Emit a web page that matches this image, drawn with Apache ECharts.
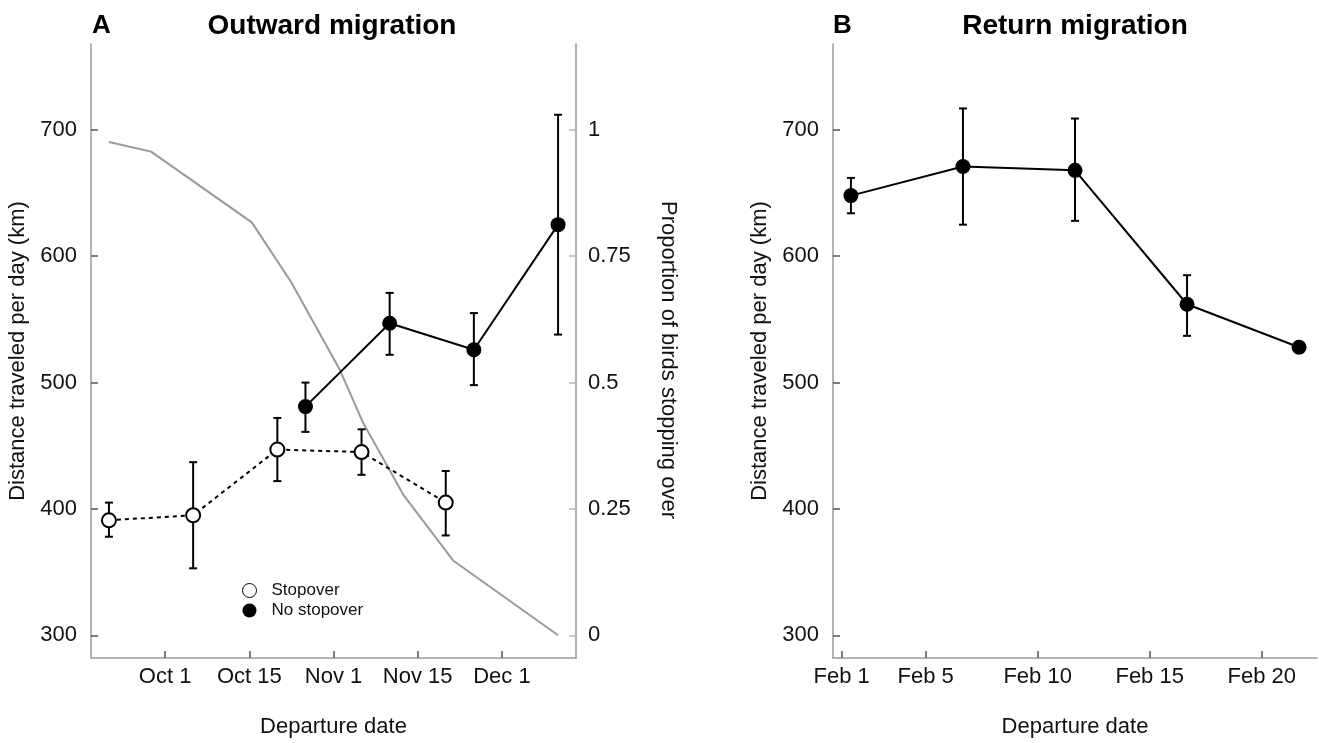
<!doctype html>
<html>
<head>
<meta charset="utf-8">
<title>Migration distance per day</title>
<style>
  html, body { margin: 0; padding: 0; background: #fff; }
  #main { width: 1319px; height: 743px; }
</style>
</head>
<body>
<div id="main"></div>
<script src="https://cdn.jsdelivr.net/npm/echarts@6/dist/echarts.min.js"></script>
<script>
// ---- panel A: outward migration (x in half-month periods) ----
var outTickPos = [1, 2, 3, 4, 5];
var outTickLabels = ['Oct 1', 'Oct 15', 'Nov 1', 'Nov 15', 'Dec 1'];

var stopX = [0.333, 1.333, 2.333, 3.333, 4.333];
var stopMean = [391, 395, 447, 445, 405];
var stopLow = [378, 353, 422, 427, 379];
var stopHigh = [405, 437, 472, 463, 430];

var noStopX = [2.667, 3.667, 4.667, 5.667];
var noStopMean = [481, 547, 526, 625];
var noStopLow = [461, 522, 498, 538];
var noStopHigh = [500, 571, 555, 712];

var propX = [0.333, 0.833, 2.03, 2.5, 3.07, 3.35, 3.83, 4.42, 5.667];
var propY = [0.976, 0.957, 0.817, 0.698, 0.527, 0.421, 0.278, 0.148, 0];

// ---- panel B: return migration (x in days of February) ----
var retTickPos = [1.25, 5, 10, 15, 20];
var retTickLabels = ['Feb 1', 'Feb 5', 'Feb 10', 'Feb 15', 'Feb 20'];

var retX = [1.667, 6.667, 11.667, 16.667, 21.667];
var retMean = [648, 671, 668, 562, 528];
var retLow = [634, 625, 628, 537, 524];
var retHigh = [662, 717, 709, 585, 532];

var distTicks = [300, 400, 500, 600, 700];
var propTicks = [0, 0.25, 0.5, 0.75, 1];

var FONT = '"Liberation Sans", Arial, sans-serif';

function pairs(xs, ys) {
    return xs.map(function (x, i) { return [x, ys[i]]; });
}
function bars(xs, lo, hi) {
    return xs.map(function (x, i) { return [x, lo[i], hi[i]]; });
}
function tickFormatter(pos, labels) {
    return function (v) {
        for (var i = 0; i < pos.length; i++) {
            if (Math.abs(pos[i] - v) < 1e-6) return labels[i];
        }
        return '';
    };
}
function renderErrorBar(params, api) {
    var x = api.value(0);
    var lo = api.coord([x, api.value(1)]);
    var hi = api.coord([x, api.value(2)]);
    var hw = 4;
    var st = { stroke: '#000', lineWidth: 2 };
    return {
        type: 'group',
        children: [
            { type: 'line', shape: { x1: lo[0], y1: lo[1], x2: hi[0], y2: hi[1] }, style: st },
            { type: 'line', shape: { x1: lo[0] - hw, y1: lo[1], x2: lo[0] + hw, y2: lo[1] }, style: st },
            { type: 'line', shape: { x1: hi[0] - hw, y1: hi[1], x2: hi[0] + hw, y2: hi[1] }, style: st }
        ]
    };
}

var axisLineStyle = { color: '#9a9a9a', width: 1.5 };
var labelStyle = { fontSize: 22, color: '#111', fontFamily: FONT };
var nameStyle = { fontSize: 22, color: '#111', fontFamily: FONT };

function xAxis(grid, min, max, pos, labels) {
    return {
        type: 'value', gridIndex: grid, min: min, max: max,
        axisLine: { show: true, onZero: false, lineStyle: axisLineStyle },
        axisTick: { show: true, inside: true, length: 7, customValues: pos, lineStyle: { color: '#555', width: 1.5 } },
        axisLabel: Object.assign({ margin: 8, customValues: pos, formatter: tickFormatter(pos, labels) }, labelStyle),
        splitLine: { show: false },
        name: 'Departure date', nameLocation: 'middle', nameGap: 58, nameTextStyle: nameStyle
    };
}
function distAxis(grid) {
    return {
        type: 'value', gridIndex: grid, min: 282, max: 768, position: 'left',
        axisLine: { show: true, onZero: false, lineStyle: axisLineStyle },
        axisTick: { show: true, inside: true, length: 7, customValues: distTicks, lineStyle: { color: '#555', width: 1.5 } },
        axisLabel: Object.assign({ margin: 14, customValues: distTicks }, labelStyle),
        splitLine: { show: false },
        name: 'Distance traveled per day (km)', nameLocation: 'middle', nameGap: 62, nameTextStyle: nameStyle
    };
}

var chart = echarts.init(document.getElementById('main'));

chart.setOption({
    backgroundColor: '#fff',
    animation: false,
    textStyle: { fontFamily: FONT },
    grid: [
        { left: 91, right: 743, top: 44, bottom: 83 },
        { left: 833, right: 2, top: 44, bottom: 83 }
    ],
    xAxis: [
        xAxis(0, 0.12, 5.88, outTickPos, outTickLabels),
        xAxis(1, 0.867, 22.467, retTickPos, retTickLabels)
    ],
    yAxis: [
        distAxis(0),
        {
            type: 'value', gridIndex: 0, min: -0.045, max: 1.17, position: 'right',
            axisLine: { show: true, onZero: false, lineStyle: axisLineStyle },
            axisTick: { show: true, inside: true, length: 7, customValues: propTicks, lineStyle: { color: '#b5b5b5', width: 1.5 } },
            axisLabel: Object.assign({ margin: 12, customValues: propTicks }, labelStyle),
            splitLine: { show: false },
            name: 'Proportion of birds stopping over', nameLocation: 'middle', nameGap: 81,
            nameRotate: -90, nameTextStyle: Object.assign({ padding: [0, 0, 0, 18] }, nameStyle)
        },
        distAxis(1)
    ],
    legend: {
        left: 242, top: 582, orient: 'vertical', padding: 0,
        itemWidth: 14, itemHeight: 14, itemGap: 3, icon: 'circle',
        textStyle: { fontSize: 17, color: '#111', fontFamily: FONT, padding: [0, 0, 0, 10] },
        data: [
            { name: 'Stopover', itemStyle: { color: '#fff', borderColor: '#000', borderWidth: 1 } },
            { name: 'No stopover', itemStyle: { color: '#000', borderWidth: 0 } }
        ]
    },
    graphic: [
        { type: 'text', x: 92, y: 26, style: { text: 'A', font: 'bold 26px ' + FONT, fill: '#000', textVerticalAlign: 'middle' } },
        { type: 'text', x: 332, y: 26, style: { text: 'Outward migration', font: 'bold 28px ' + FONT, fill: '#000', textAlign: 'center', textVerticalAlign: 'middle' } },
        { type: 'text', x: 833, y: 26, style: { text: 'B', font: 'bold 26px ' + FONT, fill: '#000', textVerticalAlign: 'middle' } },
        { type: 'text', x: 1075, y: 26, style: { text: 'Return migration', font: 'bold 28px ' + FONT, fill: '#000', textAlign: 'center', textVerticalAlign: 'middle' } }
    ],
    series: [
        {
            name: 'proportion', type: 'line', xAxisIndex: 0, yAxisIndex: 1, z: 1,
            data: pairs(propX, propY), symbol: 'none',
            lineStyle: { color: '#9a9a9a', width: 2 }
        },
        {
            name: 'stopover-err', type: 'custom', xAxisIndex: 0, yAxisIndex: 0, z: 2,
            renderItem: renderErrorBar, encode: { x: 0, y: [1, 2] }, data: bars(stopX, stopLow, stopHigh)
        },
        {
            name: 'nostop-err', type: 'custom', xAxisIndex: 0, yAxisIndex: 0, z: 2,
            renderItem: renderErrorBar, encode: { x: 0, y: [1, 2] }, data: bars(noStopX, noStopLow, noStopHigh)
        },
        {
            name: 'return-err', type: 'custom', xAxisIndex: 1, yAxisIndex: 2, z: 2,
            renderItem: renderErrorBar, encode: { x: 0, y: [1, 2] }, data: bars(retX, retLow, retHigh)
        },
        {
            name: 'Stopover', type: 'line', xAxisIndex: 0, yAxisIndex: 0, z: 3,
            data: pairs(stopX, stopMean), symbol: 'circle', symbolSize: 14,
            itemStyle: { color: '#fff', borderColor: '#000', borderWidth: 2 },
            lineStyle: { color: '#000', width: 2, type: [4, 4] }
        },
        {
            name: 'No stopover', type: 'line', xAxisIndex: 0, yAxisIndex: 0, z: 3,
            data: pairs(noStopX, noStopMean), symbol: 'circle', symbolSize: 15,
            itemStyle: { color: '#000' },
            lineStyle: { color: '#000', width: 2 }
        },
        {
            name: 'Return', type: 'line', xAxisIndex: 1, yAxisIndex: 2, z: 3,
            data: pairs(retX, retMean), symbol: 'circle', symbolSize: 15,
            itemStyle: { color: '#000' },
            lineStyle: { color: '#000', width: 2 }
        }
    ]
});

window.onresize = chart.resize;
</script>
</body>
</html>
